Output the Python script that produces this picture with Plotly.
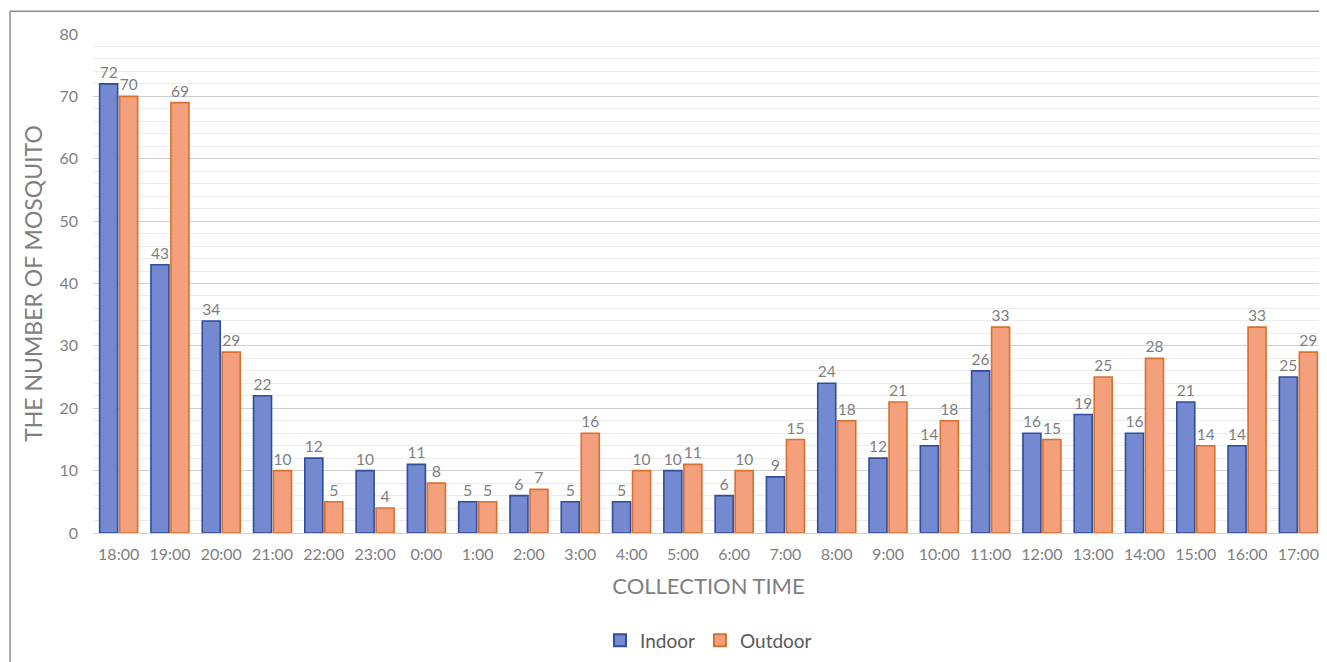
import plotly.graph_objects as go

times = ["18:00", "19:00", "20:00", "21:00", "22:00", "23:00", "0:00", "1:00", "2:00", "3:00",
         "4:00", "5:00", "6:00", "7:00", "8:00", "9:00", "10:00", "11:00", "12:00", "13:00",
         "14:00", "15:00", "16:00", "17:00"]
indoor = [72, 43, 34, 22, 12, 10, 11, 5, 6, 5, 5, 10, 6, 9, 24, 12, 14, 26, 16, 19, 16, 21, 14, 25]
outdoor = [70, 69, 29, 10, 5, 4, 8, 5, 7, 16, 10, 11, 10, 15, 18, 21, 18, 33, 15, 25, 28, 14, 33, 29]
y_ticks = [0, 10, 20, 30, 40, 50, 60, 70, 80]

FONT = "Lato"
GRAY = "#7f7f7f"

fig = go.Figure()
fig.add_trace(go.Bar(
    name="Indoor", x=times, y=indoor, text=indoor, textposition="outside",
    cliponaxis=False,
    textfont=dict(family=FONT, size=16, color=GRAY),
    marker=dict(color="#7489cf", line=dict(color="#2f4d9c", width=1.6)),
))
fig.add_trace(go.Bar(
    name="Outdoor", x=times, y=outdoor, text=outdoor, textposition="outside",
    cliponaxis=False,
    textfont=dict(family=FONT, size=16, color=GRAY),
    marker=dict(color="#f4a07c", line=dict(color="#d8702f", width=1.6)),
))

fig.update_layout(
    width=1319, height=654,
    margin=dict(l=85, r=3, t=26, b=125),
    paper_bgcolor="white", plot_bgcolor="white",
    barmode="group", bargap=0.22, bargroupgap=0.1,
    font=dict(family=FONT, color=GRAY),
    showlegend=True,
    legend=dict(orientation="h", x=0.5, xanchor="center", y=-0.215, yanchor="middle",
                font=dict(family=FONT, size=19, color="#595959"),
                itemsizing="constant", traceorder="normal"),
    shapes=[dict(type="rect", xref="paper", yref="paper",
                 x0=-0.0674, x1=1.2, y0=-0.5, y1=1.0457,
                 line=dict(color="#555555", width=1), fillcolor="rgba(0,0,0,0)", layer="below")],
)

fig.update_xaxes(
    showgrid=False, showline=True, linecolor="#d0d0d0", linewidth=1,
    ticks="", ticklabelstandoff=7,
    tickfont=dict(family=FONT, size=16, color=GRAY),
    title=dict(text="COLLECTION TIME", font=dict(family=FONT, size=22, color=GRAY), standoff=16),
)
fig.update_yaxes(
    range=[0, 80], tickvals=y_ticks,
    showgrid=True, gridcolor="#d0d0d0", gridwidth=1.3,
    minor=dict(dtick=2, showgrid=True, gridcolor="#ececec", gridwidth=1),
    zeroline=False, ticks="", ticklabelstandoff=14,
    tickfont=dict(family=FONT, size=16, color=GRAY),
    title=dict(text="THE NUMBER OF MOSQUITO", font=dict(family=FONT, size=23, color=GRAY), standoff=10),
)

fig.write_html("out.html")
